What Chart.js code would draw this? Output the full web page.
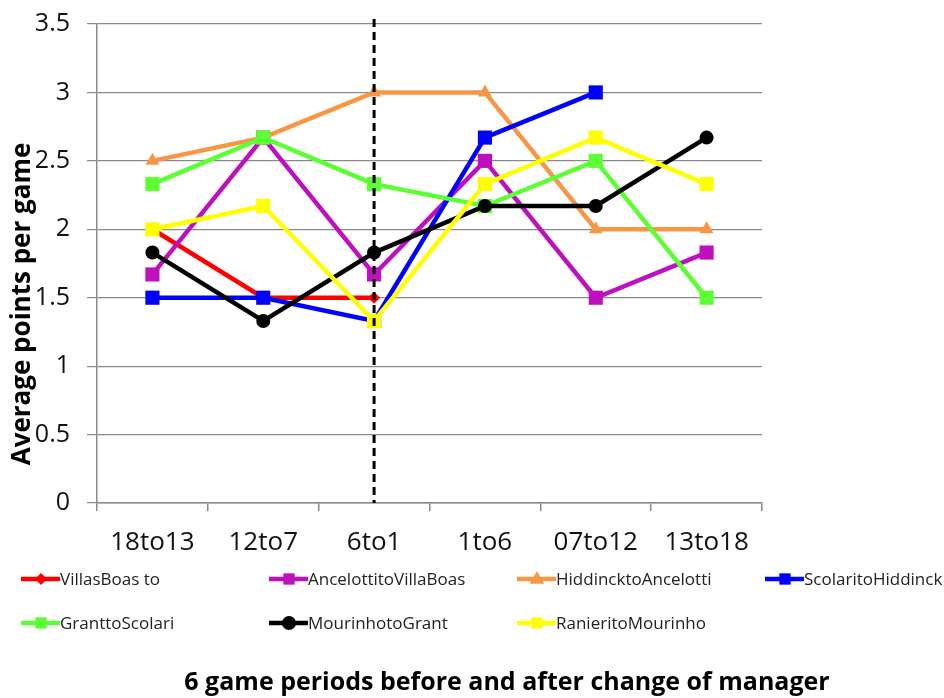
<!DOCTYPE html>
<html>
<head>
<meta charset="utf-8">
<script src="https://cdn.jsdelivr.net/npm/chart.js@4/dist/chart.umd.min.js"></script>
<style>
  html, body { margin: 0; padding: 0; background: #fff; }
  #wrap { width: 944px; height: 698px; position: relative; }
</style>
</head>
<body>
<div id="wrap"><canvas id="c" width="944" height="698"></canvas></div>
<script>
// Six-game periods around each managerial change
const periods = ['18to13', '12to7', '6to1', '1to6', '07to12', '13to18'];
const seriesNames = [
  'VillasBoas to', 'AncelottitoVillaBoas', 'HiddincktoAncelotti', 'ScolaritoHiddinck',
  'GranttoScolari', 'MourinhotoGrant', 'RanieritoMourinho'
];
// Average points per game in each period
const villasBoas   = [2.00, 1.50, 1.50, null, null, null];
const ancelotti    = [1.67, 2.67, 1.67, 2.50, 1.50, 1.83];
const hiddinck     = [2.50, 2.67, 3.00, 3.00, 2.00, 2.00];
const scolari      = [1.50, 1.50, 1.33, 2.67, 3.00, null];
const grant        = [2.33, 2.67, 2.33, 2.17, 2.50, 1.50];
const mourinho     = [1.83, 1.33, 1.83, 2.17, 2.17, 2.67];
const ranieri      = [2.00, 2.17, 1.33, 2.33, 2.67, 2.33];
const yTicks = [0, 0.5, 1, 1.5, 2, 2.5, 3, 3.5];
const changeIndex = 2; // dashed marker sits on the last period before the change
const xTitle = '6 game periods before and after change of manager';
const yTitle = 'Average points per game';

const seriesValues = [villasBoas, ancelotti, hiddinck, scolari, grant, mourinho, ranieri];
const colors = ['#FF0000', '#BE10BE', '#F79646', '#0000FF', '#5CFF33', '#000000', '#FFFF00'];
const markers = ['rectRot', 'rect', 'triangle', 'rect', 'rect', 'circle', 'rect'];
const markerRadius = [6, 10, 8, 10, 10, 7, 10];

const datasets = seriesValues.map((vals, i) => ({
  label: seriesNames[i],
  data: vals,
  borderColor: colors[i],
  backgroundColor: colors[i],
  borderWidth: 4.5,
  pointStyle: markers[i],
  pointRadius: markerRadius[i],
  pointBorderWidth: 0,
  pointBackgroundColor: colors[i],
  tension: 0,
  spanGaps: false,
  order: seriesValues.length - i   // later series painted on top
}));

const FAMILY = '"Open Sans", "DejaVu Sans", sans-serif';
const legendFont = '17px ' + FAMILY;

function drawMarker(ctx, style, r, x, y, color) {
  ctx.save();
  ctx.fillStyle = color;
  ctx.beginPath();
  if (style === 'rect') {
    const s = r * Math.SQRT1_2;
    ctx.rect(x - s, y - s, 2 * s, 2 * s);
  } else if (style === 'circle') {
    ctx.arc(x, y, r, 0, Math.PI * 2);
  } else if (style === 'triangle') {
    ctx.moveTo(x, y - r);
    ctx.lineTo(x + r * 0.9, y + r * 0.6);
    ctx.lineTo(x - r * 0.9, y + r * 0.6);
    ctx.closePath();
  } else {
    ctx.moveTo(x, y - r); ctx.lineTo(x + r, y); ctx.lineTo(x, y + r); ctx.lineTo(x - r, y);
    ctx.closePath();
  }
  ctx.fill();
  ctx.restore();
}

// Dashed vertical line marking the change of manager
const changeLine = {
  id: 'changeLine',
  afterDatasetsDraw(chart) {
    const { ctx, chartArea, scales } = chart;
    const x = scales.x.getPixelForValue(changeIndex);
    ctx.save();
    ctx.strokeStyle = '#000';
    ctx.lineWidth = 3;
    ctx.setLineDash([8, 5]);
    ctx.beginPath();
    ctx.moveTo(x, chartArea.top - 5);
    ctx.lineTo(x, chartArea.bottom);
    ctx.stroke();
    ctx.restore();
  }
};

// Grid-style legend and the two axis captions
const captions = {
  id: 'captions',
  afterDraw(chart) {
    const { ctx } = chart;
    ctx.save();
    chart.data.datasets.forEach((ds, i) => {
      const col = i % 4, row = Math.floor(i / 4);
      const x = 21 + col * 248;
      const y = 579 + row * 44;
      ctx.strokeStyle = ds.borderColor;
      ctx.lineWidth = 4.5;
      ctx.beginPath();
      ctx.moveTo(x, y);
      ctx.lineTo(x + 39, y);
      ctx.stroke();
      drawMarker(ctx, ds.pointStyle, Math.min(ds.pointRadius, 8), x + 20, y, ds.borderColor);
      ctx.fillStyle = '#222';
      ctx.font = legendFont;
      ctx.textBaseline = 'middle';
      ctx.textAlign = 'left';
      ctx.fillText(ds.label, x + 39, y + 1);
    });

    ctx.fillStyle = '#000';
    ctx.textAlign = 'center';
    ctx.textBaseline = 'middle';
    ctx.font = 'bold 25px ' + FAMILY;
    ctx.fillText(xTitle, 507, 683);

    ctx.translate(23, 304);
    ctx.rotate(-Math.PI / 2);
    ctx.font = 'bold 26px ' + FAMILY;
    ctx.fillText(yTitle, 0, 0);
    ctx.restore();
  }
};

new Chart(document.getElementById('c'), {
  type: 'line',
  data: { labels: periods, datasets },
  options: {
    responsive: false,
    animation: false,
    layout: { padding: { top: 24, right: 182, left: 0, bottom: 0 } },
    plugins: {
      legend: { display: false },
      tooltip: { enabled: false },
      title: { display: false }
    },
    scales: {
      x: {
        type: 'category',
        offset: true,
        border: { color: '#8a8a8a', width: 1.5 },
        grid: { drawOnChartArea: false, drawTicks: true, tickLength: 8, offset: true, color: '#8a8a8a', lineWidth: 1.5 },
        ticks: { color: '#111', font: { family: FAMILY, size: 26 }, padding: 16, maxRotation: 0, autoSkip: false },
        afterFit(scale) { scale.height = 195; }
      },
      y: {
        min: 0, max: 3.5,
        afterBuildTicks(scale) { scale.ticks = yTicks.map(v => ({ value: v })); },
        border: { color: '#8a8a8a', width: 1.5 },
        grid: { color: '#8a8a8a', lineWidth: 1.2, tickLength: 10 },
        ticks: { color: '#111', font: { family: FAMILY, size: 25 }, padding: 17, callback: v => String(v) },
        afterFit(scale) {
          scale.width = 97;
          scale.paddingTop = 0;
          scale.paddingBottom = 0;
        }
      }
    }
  },
  plugins: [changeLine, captions]
});
</script>
</body>
</html>
